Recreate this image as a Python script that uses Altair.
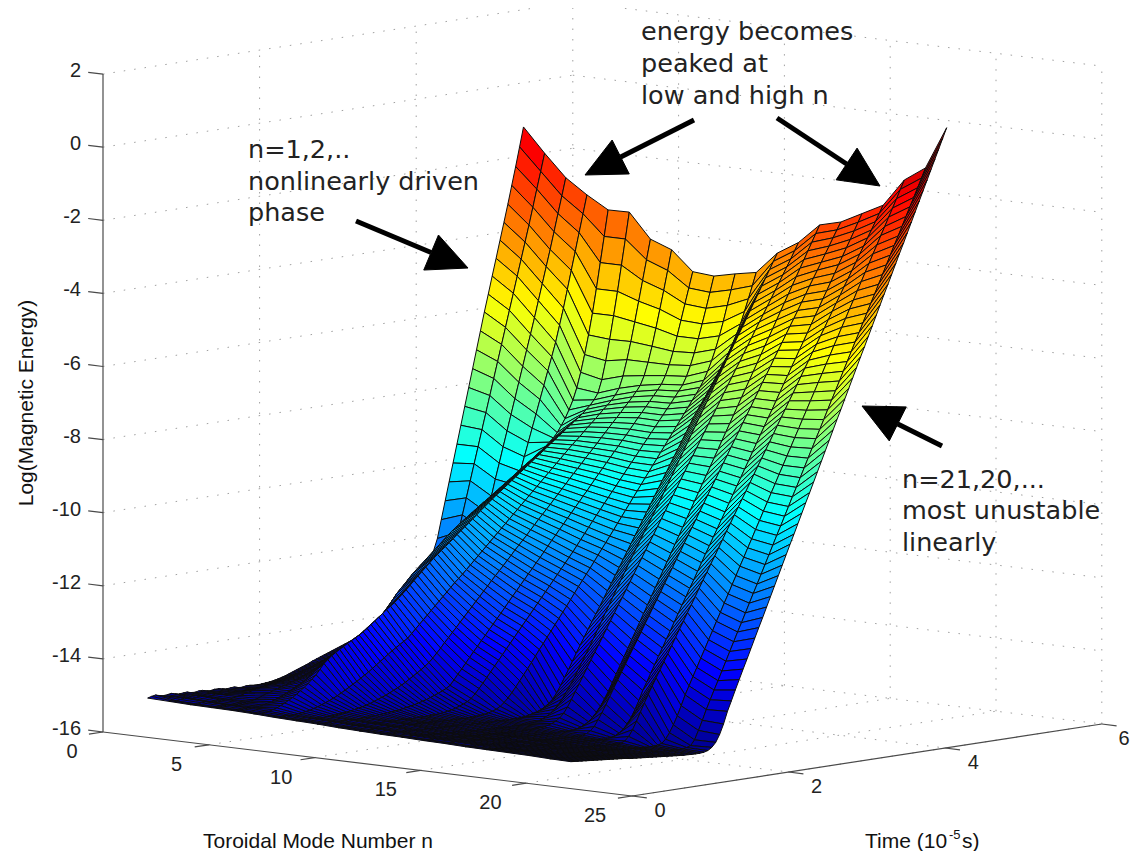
import altair as alt
import pandas as pd

# Time samples (10^-5 s): 0.30, 0.35, ... 5.10
TIME = [round(0.3 + 0.05 * i, 2) for i in range(97)]
FLOOR = -16.0
# Height of Log(Magnetic Energy) above -16, in hundredths, one list per toroidal mode number
n01 = [90,93,95,92,90,91,93,90,88,89,90,87,86,88,88,85,84,86,86,84,
       82,83,84,81,80,82,82,80,80,81,82,83,85,87,90,93,97,101,105,109,
       113,117,122,126,130,134,138,142,146,150,154,158,162,168,174,182,190,198,206,214,
       222,231,240,249,258,268,278,289,300,312,324,336,348,372,405,455,505,555,605,655,
       705,755,805,855,905,955,1005,1052,1100,1147,1195,1242,1290,1340,1390,1442,1495]
n02 = [88,87,86,88,90,88,86,87,89,87,85,86,88,86,84,85,86,84,83,84,
       84,85,85,86,87,88,90,92,94,96,98,100,103,106,110,113,117,121,125,129,
       133,137,141,145,150,154,158,162,167,172,177,183,190,197,205,212,220,227,235,242,
       250,257,265,272,280,288,296,304,312,321,330,340,350,385,430,475,520,565,610,655,
       700,745,790,835,880,925,970,1015,1060,1105,1150,1195,1240,1287,1335,1382,1430]
n03 = [86,85,84,86,87,85,83,84,85,85,84,86,88,90,93,95,98,100,102,104,
       106,108,110,112,115,118,121,124,128,131,135,138,142,146,150,155,160,165,171,176,
       182,187,193,198,204,209,215,220,226,231,237,242,248,254,260,264,269,273,277,281,
       285,289,293,297,301,305,309,313,317,321,325,330,335,360,395,440,485,530,575,617,
       660,702,745,787,830,872,915,957,1000,1045,1090,1135,1180,1227,1275,1322,1370]
n04 = [85,84,83,84,85,83,82,83,84,85,86,88,91,95,99,102,106,109,113,116,
       120,123,127,131,135,140,145,150,156,161,167,172,178,184,190,196,202,208,214,220,
       226,232,238,244,250,256,262,268,274,280,286,292,298,304,310,313,317,320,324,327,
       331,334,338,341,345,348,352,355,359,362,365,368,372,390,415,450,490,527,565,602,
       640,677,715,752,790,827,865,902,940,985,1030,1080,1130,1180,1230,1280,1330]
n05 = [84,83,82,83,84,83,83,84,86,89,92,96,100,105,110,115,121,126,132,138,
       144,150,156,163,170,177,184,191,198,205,212,219,226,233,240,250,260,270,280,290,
       305,320,335,347,358,370,382,392,402,412,422,432,442,452,462,472,482,490,499,507,
       515,523,531,539,547,554,562,570,578,586,594,602,610,618,627,634,642,650,658,666,
       675,685,695,708,725,743,765,790,822,863,910,962,1020,1085,1155,1225,1296]
n06 = [82,81,80,81,82,85,88,93,98,104,110,117,125,133,142,152,162,176,190,199,
       208,215,222,228,235,241,247,253,260,268,277,285,294,302,311,319,327,337,347,357,
       368,379,390,400,411,421,432,441,450,459,468,477,487,496,505,514,523,532,542,551,
       560,569,578,586,595,603,612,620,629,637,646,654,663,671,680,688,697,705,714,722,
       731,739,748,756,765,775,785,798,815,850,900,957,1020,1085,1155,1225,1297]
n07 = [79,78,77,78,78,78,79,80,82,84,87,90,94,98,102,107,112,118,124,130,
       137,143,150,157,164,172,180,188,196,204,212,219,226,233,240,251,262,273,284,295,
       306,317,328,339,350,361,372,382,392,403,414,425,436,447,458,469,480,491,502,513,
       524,535,546,557,568,579,590,601,612,623,634,645,656,667,678,689,700,710,720,731,
       742,752,762,773,784,794,805,818,835,867,910,958,1010,1065,1120,1175,1230]
n08 = [77,76,75,75,76,75,74,74,75,75,76,77,78,79,81,83,85,87,90,93,
       97,101,105,109,114,119,124,130,136,143,150,157,164,172,180,191,203,215,228,240,
       253,265,278,290,303,315,328,340,353,365,378,390,402,414,427,439,452,464,476,488,
       501,513,526,538,550,562,575,587,600,612,625,637,649,661,674,686,698,710,723,735,
       748,760,772,784,797,809,822,835,850,875,910,952,1000,1050,1100,1153,1208]
n09 = [75,74,73,73,74,73,72,72,73,72,71,71,72,72,73,73,74,75,76,77,
       78,79,81,83,85,87,90,93,96,100,104,108,113,118,125,138,152,165,179,193,
       207,220,234,247,261,274,288,301,315,329,343,356,370,383,397,410,424,437,451,465,
       479,492,506,519,533,546,560,573,587,600,614,628,642,655,669,682,696,709,723,736,
       750,764,778,791,805,818,832,846,860,882,910,945,985,1027,1070,1112,1155]
n10 = [72,71,70,70,71,70,69,69,70,69,68,68,69,68,67,67,68,67,66,66,
       67,66,66,66,67,67,68,69,71,73,76,80,84,89,96,107,120,133,147,161,
       175,189,203,217,231,245,259,273,287,301,315,329,343,357,371,385,399,413,427,441,
       455,470,485,500,515,530,545,559,574,588,603,617,632,646,661,675,690,704,719,733,
       748,762,777,791,806,820,835,850,865,887,915,948,985,1024,1065,1107,1150]
n11 = [70,69,68,68,69,68,67,67,68,67,66,66,67,66,65,65,65,64,63,63,
       63,62,62,61,61,61,61,60,60,60,61,62,63,65,68,72,78,87,98,111,
       125,140,155,170,185,201,217,232,248,263,279,294,310,325,341,357,373,388,404,419,
       435,451,467,482,498,514,530,546,562,578,594,610,626,642,658,674,690,706,722,738,
       754,770,786,802,818,834,850,867,885,908,935,965,1000,1038,1080,1121,1163]
n12 = [68,67,66,66,67,66,65,65,65,64,63,63,63,62,62,61,61,60,60,59,
       59,58,58,57,57,56,56,55,55,55,55,54,54,54,54,54,55,56,58,61,
       64,68,74,82,92,107,125,145,165,186,207,227,247,267,287,306,325,345,365,384,
       404,424,444,464,484,504,524,544,564,584,604,624,644,664,684,704,724,744,764,784,
       804,821,838,855,873,891,910,927,945,967,990,1014,1040,1072,1105,1139,1174]
n13 = [67,66,65,66,65,64,63,62,62,61,60,60,59,58,58,57,56,56,55,54,
       54,53,53,52,52,51,51,50,50,50,50,50,50,51,52,54,58,63,70,79,
       90,104,120,137,155,175,195,215,235,256,277,298,320,341,362,383,404,425,446,466,
       486,506,526,545,565,585,605,626,647,668,689,710,731,752,773,794,815,836,857,878,
       899,920,941,962,983,1004,1025,1045,1066,1087,1108,1129,1150,1171,1192,1213,1234]
n14 = [65,64,63,64,63,62,61,60,60,59,58,58,57,56,55,55,54,54,53,52,
       52,51,50,50,50,49,49,49,49,49,50,51,54,57,62,69,80,96,115,135,
       155,175,195,215,235,254,274,294,314,334,354,373,393,413,433,453,473,493,513,532,
       552,572,592,612,632,652,672,692,712,731,751,771,791,811,831,850,870,890,910,930,
       950,969,989,1009,1029,1049,1069,1088,1108,1128,1148,1168,1188,1208,1228,1249,1270]
n15 = [64,63,62,63,62,61,60,59,59,58,57,57,56,55,54,54,53,53,52,51,
       50,49,49,48,48,47,47,46,46,46,46,46,46,47,48,51,55,62,72,85,
       100,118,137,159,181,203,225,247,269,291,313,335,357,379,401,423,445,467,489,511,
       533,555,577,599,621,643,665,687,709,731,753,775,797,819,841,863,885,907,929,951,
       973,995,1017,1039,1061,1083,1105,1127,1149,1171,1193,1215,1237,1259,1281,1303,1325]
n16 = [62,61,60,61,60,59,58,57,56,56,55,54,53,53,52,51,50,50,49,48,
       47,46,46,45,45,44,44,43,43,43,44,47,53,63,80,98,118,139,160,180,
       201,221,242,262,282,302,323,343,364,384,404,425,445,465,486,506,527,547,567,587,
       608,628,649,669,689,709,730,750,771,791,811,832,852,872,893,913,934,954,974,995,
       1015,1035,1056,1076,1096,1116,1137,1157,1178,1198,1218,1238,1259,1279,1300,1320,1340]
n17 = [61,60,59,58,58,57,56,55,55,54,53,52,51,51,50,49,48,48,47,46,
       45,44,44,43,43,42,42,41,41,40,40,41,42,45,50,59,72,88,108,131,
       157,178,200,222,244,265,287,308,330,352,374,395,417,438,460,482,504,525,547,568,
       590,611,633,655,677,698,720,741,763,785,807,828,850,871,893,915,937,958,980,1001,
       1023,1044,1066,1088,1110,1131,1153,1174,1196,1218,1240,1261,1283,1304,1326,1348,1370]
n18 = [60,59,58,58,57,56,55,54,53,52,51,51,50,49,48,47,46,45,44,43,
       42,41,41,40,39,38,38,37,37,38,42,53,70,92,115,138,160,181,202,222,
       243,263,284,305,326,346,367,387,408,429,450,470,491,511,532,553,574,594,615,635,
       656,676,697,718,739,759,780,800,821,842,863,883,904,924,945,966,987,1007,1028,1048,
       1069,1089,1110,1131,1152,1172,1193,1213,1234,1255,1276,1296,1317,1337,1358,1379,1400]
n19 = [59,58,57,56,55,54,53,52,51,50,49,48,47,46,45,44,43,42,42,41,
       40,39,38,37,36,35,35,34,33,32,32,32,32,33,36,46,62,82,105,131,
       159,182,206,229,253,276,300,323,347,370,394,417,441,464,488,511,535,558,582,605,
       629,652,676,699,723,746,770,793,817,840,864,887,911,934,958,981,1005,1028,1052,1075,
       1099,1122,1146,1169,1193,1216,1240,1263,1287,1310,1334,1357,1381,1404,1428,1452,1476]
n20 = [57,56,55,54,53,52,51,50,49,48,47,46,45,44,43,42,41,40,39,38,
       37,36,35,34,33,32,32,31,30,29,29,28,28,28,28,30,34,48,72,98,
       126,151,176,200,225,250,275,300,325,349,374,399,424,448,473,498,523,548,573,597,
       622,647,672,696,721,746,771,796,821,845,870,895,920,944,969,994,1019,1044,1069,1093,
       1118,1143,1168,1192,1217,1242,1267,1292,1317,1341,1366,1391,1416,1440,1465,1490,1516]
n21 = [56,55,54,53,52,51,50,49,48,47,46,45,44,43,42,40,39,38,37,36,
       35,34,33,32,31,30,29,28,27,26,26,25,25,25,26,29,36,48,68,95,
       128,155,183,210,237,263,290,317,344,370,397,424,451,478,505,532,559,585,612,639,
       666,692,719,746,773,800,827,854,881,907,934,961,988,1015,1042,1068,1095,1122,1149,1176,
       1203,1229,1256,1283,1310,1336,1363,1390,1417,1444,1471,1498,1525,1552,1579,1606,1633]
RISE = [n01,n02,n03,n04,n05,n06,n07,n08,n09,n10,n11,n12,n13,n14,n15,n16,n17,n18,n19,n20,n21]

Z_TICKS = [2, 0, -2, -4, -6, -8, -10, -12, -14, -16]
N_TICKS = [0, 5, 10, 15, 20, 25]
T_TICKS = [0, 2, 4, 6]
NOTES = [("n=1,2,..", 248, 150), ("nonlinearly driven", 248, 182), ("phase", 248, 213),
         ("energy becomes", 641, 32), ("peaked at", 641, 64), ("low and high n", 641, 96),
         ("n=21,20,...", 902, 480), ("most unustable", 902, 511), ("linearly", 902, 543)]
ARROWS = [((356, 221), (468, 268)), ((694, 120), (585, 175)),
          ((777, 118), (880, 186)), ((942, 446), (862, 406))]


def project(n, t, z):
    return (103 + 21.16 * n + 78.3 * t, 732 + 2.56 * n - 12.0 * t - 36.55 * (z + 16))


# surface cells, far ones first
cells = []
q = 0
for i in range(len(RISE) - 1):
    for j in range(len(TIME) - 2, -1, -1):
        corners = [(i, j), (i + 1, j), (i + 1, j + 1), (i, j + 1), (i, j)]
        zs = [RISE[a][b] / 100 + FLOOR for a, b in corners]
        level = sum(zs[:4]) / 4
        for k, ((a, b), z) in enumerate(zip(corners, zs)):
            x, y = project(a + 1, TIME[b], z)
            cells.append({"q": q, "k": k, "x": x, "y": y, "level": level})
        q += 1
cells = pd.DataFrame(cells)

# dotted grid on floor and back walls
g = 0


def seg(rows, a, b):
    global g
    for k, p in enumerate((a, b)):
        x, y = project(*p)
        rows.append({"g": g, "k": k, "x": x, "y": y})
    g += 1


grid = []
for z in Z_TICKS[:-1]:
    seg(grid, (0, 0, z), (0, 6, z))
    seg(grid, (0, 6, z), (25, 6, z))
for t in T_TICKS[1:]:
    seg(grid, (0, t, -16), (0, t, 2))
    seg(grid, (0, t, -16), (25, t, -16))
for n in N_TICKS[1:]:
    seg(grid, (n, 6, -16), (n, 6, 2))
    seg(grid, (n, 0, -16), (n, 6, -16))
grid = pd.DataFrame(grid)

# axis lines and tick marks
axes = []
seg(axes, (0, 0, -16), (0, 0, 2))
seg(axes, (0, 0, -16), (25, 0, -16))
seg(axes, (25, 0, -16), (25, 6, -16))
for z in Z_TICKS:
    seg(axes, (0, 0, z), (-0.7, 0, z))
for n in N_TICKS:
    seg(axes, (n, 0, -16), (n, -0.18, -16))
for t in T_TICKS:
    seg(axes, (25, t, -16), (25.7, t, -16))
axes = pd.DataFrame(axes)

labels = []
for z in Z_TICKS:
    x, y = project(0, 0, z)
    labels.append({"x": x - 22, "y": y - 3, "text": str(z), "anchor": "right"})
for n in N_TICKS:
    x, y = project(n, 0, -16)
    labels.append({"x": x - 31 - 0.24 * n, "y": y + 20, "text": str(n), "anchor": "center"})
for t in T_TICKS:
    x, y = project(25, t, -16)
    labels.append({"x": min(x + 28, 1124), "y": y + 15, "text": str(t), "anchor": "center"})
labels = pd.DataFrame(labels)

titles = pd.DataFrame([
    {"x": 203, "y": 842, "text": "Toroidal Mode Number n", "size": 21},
    {"x": 865, "y": 842, "text": "Time (10", "size": 21},
    {"x": 949, "y": 835, "text": "-5", "size": 13},
    {"x": 962, "y": 842, "text": "s)", "size": 21},
])

heads, shafts = [], []
for a, ((x0, y0), (x1, y1)) in enumerate(ARROWS):
    L = ((x1 - x0) ** 2 + (y1 - y0) ** 2) ** 0.5
    ux, uy = (x1 - x0) / L, (y1 - y0) / L
    bx, by = x1 - ux * 40, y1 - uy * 40
    pts = [(x1, y1), (bx - uy * 19, by + ux * 19), (bx + uy * 19, by - ux * 19), (x1, y1)]
    for k, (x, y) in enumerate(pts):
        heads.append({"a": a, "k": k, "x": x, "y": y})
    shafts += [{"a": a, "k": 0, "x": x0, "y": y0}, {"a": a, "k": 1, "x": bx, "y": by}]
heads, shafts = pd.DataFrame(heads), pd.DataFrame(shafts)
notes = pd.DataFrame(NOTES, columns=["text", "x", "y"])

W, H = 1123, 843
X = alt.X("x:Q", scale=alt.Scale(domain=[8, 8 + W], nice=False, zero=False), axis=None)
Y = alt.Y("y:Q", scale=alt.Scale(domain=[8 + H, 8], nice=False, zero=False), axis=None)

JET = ["#00008f", "#0000ff", "#00ffff", "#ffff00", "#ff0000", "#800000"]
lo, hi = -15.75, 0.33
STOPS = [lo + (hi - lo) * p for p in (0, .125, .375, .625, .875, 1)]

grid_layer = alt.Chart(grid).mark_line(color="#a0a0a0", strokeWidth=1, strokeDash=[1.5, 9]).encode(
    x=X, y=Y, detail="g:N", order="k:Q")
axis_layer = alt.Chart(axes).mark_line(color="#4a4a4a", strokeWidth=1.2).encode(
    x=X, y=Y, detail="g:N", order="k:Q")
surface = alt.Chart(cells).mark_line(stroke="#0c0c0c", strokeWidth=1.0, strokeJoin="round").encode(
    x=X, y=Y, detail="q:N", order="k:Q",
    fill=alt.Fill("level:Q", legend=None,
                  scale=alt.Scale(domain=STOPS, range=JET, interpolate="rgb", clamp=True)))
tick_text = alt.Chart(labels[labels.anchor == "right"]).mark_text(
    font="Liberation Sans", fontSize=20, align="right", baseline="middle", color="#222").encode(
    x=X, y=Y, text="text:N")
tick_text2 = alt.Chart(labels[labels.anchor == "center"]).mark_text(
    font="Liberation Sans", fontSize=20, align="center", baseline="middle", color="#222").encode(
    x=X, y=Y, text="text:N")
title_text = alt.Chart(titles).mark_text(
    font="Liberation Sans", align="left", baseline="middle", color="#111").encode(
    x=X, y=Y, text="text:N", size=alt.Size("size:Q", scale=None, legend=None))
y_title = alt.Chart(pd.DataFrame([{"x": 27, "y": 403, "text": "Log(Magnetic Energy)"}])).mark_text(
    font="Liberation Sans", fontSize=21, angle=270, align="center", baseline="middle", color="#111").encode(
    x=X, y=Y, text="text:N")
note_text = alt.Chart(notes).mark_text(
    font="DejaVu Sans", fontSize=25.5, align="left", baseline="middle", color="#222").encode(
    x=X, y=Y, text="text:N")
shaft_layer = alt.Chart(shafts).mark_line(color="black", strokeWidth=5).encode(
    x=X, y=Y, detail="a:N", order="k:Q")
head_layer = alt.Chart(heads).mark_line(stroke="black", fill="black", strokeWidth=1).encode(
    x=X, y=Y, detail="a:N", order="k:Q")

chart = alt.layer(grid_layer, axis_layer, surface, tick_text, tick_text2, title_text, y_title,
                  note_text, shaft_layer, head_layer).properties(
    width=W, height=H, padding=0, autosize="none"
).configure_view(stroke=None)
chart.save("out.html", embed_options={"renderer": "svg", "actions": False})
